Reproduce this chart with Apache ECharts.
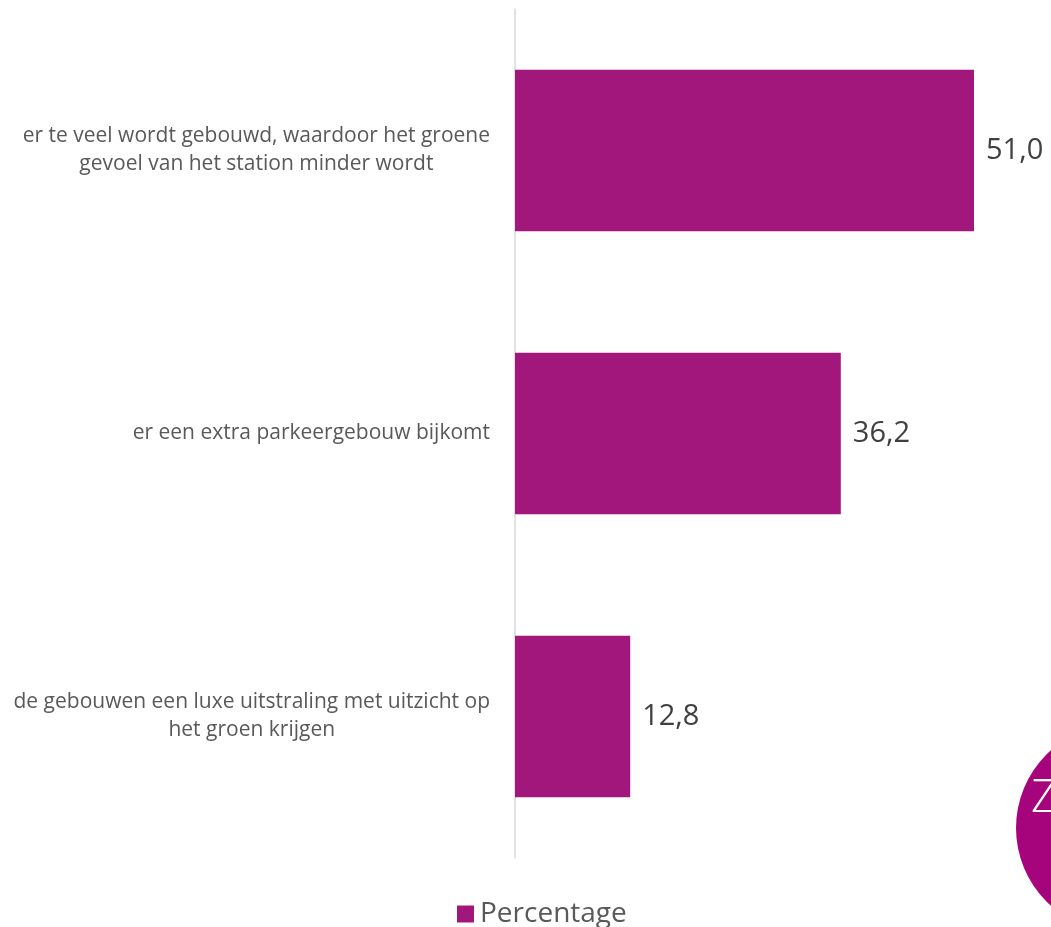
<!DOCTYPE html>
<html><head><meta charset="utf-8">
<script src="https://cdn.jsdelivr.net/npm/echarts@6/dist/echarts.min.js"></script>
<style>html,body{margin:0;padding:0;background:#fff}#c{width:1051px;height:927px}</style>
</head><body><div id="c"></div>
<script>
const categories = [
  'er te veel wordt gebouwd, waardoor het groene\ngevoel van het station minder wordt',
  'er een extra parkeergebouw bijkomt',
  'de gebouwen een luxe uitstraling met uitzicht op\nhet groen krijgen'
];
const seriesName = 'Percentage';
const values = [51.0, 36.2, 12.8];

const chart = echarts.init(document.getElementById('c'));
const FONT = '"Open Sans", "Liberation Sans", sans-serif';
chart.setOption({
  animation: false,
  grid: { left: 515, top: 9, height: 849, width: 531 },
  xAxis: { type: 'value', min: 0, max: 59, show: false, splitLine: { show: false } },
  yAxis: {
    type: 'category', data: categories, inverse: true,
    axisLine: { show: true, lineStyle: { color: '#D9D9D9', width: 1.5 } },
    axisTick: { show: false },
    axisLabel: {
      margin: 25, align: 'right', color: '#595959', fontFamily: FONT, fontSize: 21, lineHeight: 28,
      formatter: v => v.split('\n').map(l => '{c|' + l + '}').join('\n'),
      rich: { c: { align: 'center', color: '#595959', fontFamily: FONT, fontSize: 21, lineHeight: 28 } }
    }
  },
  legend: {
    data: [seriesName], left: 457, top: 900, padding: 0, icon: 'rect', itemWidth: 17, itemHeight: 17, itemGap: 6,
    textStyle: { color: '#595959', fontFamily: FONT, fontSize: 28, padding: [0, 0, 0, 1] }
  },
  series: [{
    name: seriesName, type: 'bar', data: values, barCategoryGap: '43%',
    itemStyle: { color: '#A2177B' },
    label: {
      show: true, position: 'right', distance: 12, color: '#404040', fontFamily: FONT, fontSize: 29,
      formatter: p => p.value.toFixed(1).replace('.', ',')
    }
  }],
  graphic: [
    { type: 'circle', shape: { cx: 1120, cy: 828, r: 104 }, style: { fill: '#A5047C' }, z: 10 },
    { type: 'text', left: 1031, top: 776, style: { text: 'Z', fill: '#fff', font: '300 46px "Open Sans", sans-serif' }, z: 11 }
  ]
});
</script></body></html>
